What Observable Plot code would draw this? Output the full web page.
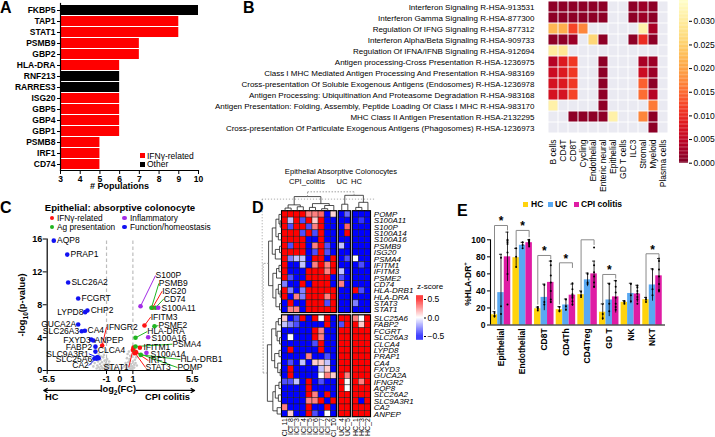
<!DOCTYPE html>
<html>
<head>
<meta charset="utf-8">
<script src="https://cdn.jsdelivr.net/npm/d3@7"></script>
<script src="https://cdn.jsdelivr.net/npm/@observablehq/plot@0.6"></script>
<style>
html,body{margin:0;padding:0;background:#fff;}
#root{position:relative;width:715px;height:437px;overflow:hidden;background:#fff;font-family:"Liberation Sans",Arial,Helvetica,sans-serif;color:#000;}
.abs{position:absolute;white-space:nowrap;line-height:1;}
</style>
</head>
<body>
<div id="root"></div>
<script>
// ================= DATA =================
// ---- Panel A ----
const aGenes = ["FKBP5","TAP1","STAT1","PSMB9","GBP2","HLA-DRA","RNF213","RARRES3","ISG20","GBP5","GBP4","GBP1","PSMB8","IRF1","CD74"];
const aCounts = [10,9,9,7,7,6,6,6,6,6,6,6,5,5,5];
const aTypes = ["Other","IFNγ-related","IFNγ-related","IFNγ-related","IFNγ-related","IFNγ-related","Other","Other","IFNγ-related","IFNγ-related","IFNγ-related","IFNγ-related","IFNγ-related","IFNγ-related","IFNγ-related"];
const aTicks = [3,4,5,6,7,8,9,10];

// ---- Panel B ----
const bPathways = [
  "Interferon Signaling R-HSA-913531",
  "Interferon Gamma Signaling R-HSA-877300",
  "Regulation Of IFNG Signaling R-HSA-877312",
  "Interferon Alpha/Beta Signaling R-HSA-909733",
  "Regulation Of IFNA/IFNB Signaling R-HSA-912694",
  "Antigen processing-Cross Presentation R-HSA-1236975",
  "Class I MHC Mediated Antigen Processing And Presentation R-HSA-983169",
  "Cross-presentation Of Soluble Exogenous Antigens (Endosomes) R-HSA-1236978",
  "Antigen Processing: Ubiquitination And Proteasome Degradation R-HSA-983168",
  "Antigen Presentation: Folding, Assembly, Peptide Loading Of Class I MHC R-HSA-983170",
  "MHC Class II Antigen Presentation R-HSA-2132295",
  "Cross-presentation Of Particulate Exogenous Antigens (Phagosomes) R-HSA-1236973"
];
const bCellTypes = ["B cells","CD4T","CD8T","Cycling","Endothelial","Enteric neural","Epithelial","GD T cells","ILC3","Stromal","Myeloid","Plasma cells"];
const bPvals = [
  [0.001,0.001,0.001,0.001,0.001,0.001,null,null,0.001,0.002,0.001,null],
  [0.001,0.001,0.001,0.001,0.001,0.001,null,null,0.001,0.002,0.001,null],
  [0.022,0.021,0.012,0.017,null,null,null,null,null,0.031,0.003,null],
  [0.001,0.001,0.002,null,0.026,0.001,null,null,0.001,0.010,0.001,null],
  [0.030,0.029,null,null,null,null,null,null,null,null,null,null],
  [0.004,0.008,0.011,null,null,0.001,null,null,null,0.003,0.002,null],
  [0.006,0.008,0.011,null,null,0.001,null,null,null,0.006,0.002,null],
  [0.007,0.008,0.011,null,null,0.001,null,null,null,0.014,0.001,null],
  [0.007,0.007,0.012,null,null,0.001,null,null,null,0.015,0.004,null],
  [0.031,null,null,null,null,0.001,null,null,null,null,0.016,null],
  [null,null,0.001,0.001,0.001,0.001,0.031,null,null,0.017,0.001,null],
  [null,null,null,null,null,null,null,null,null,null,0.001,null]
];
const bTicks = [0,0.005,0.010,0.015,0.020,0.025,0.030];

// ---- Panel C ----
const cGroups = ["IFNγ-related","Ag presentation","Inflammatory","Function/homeostasis"];
const cGenes  = ["AQP8","PRAP1","SLC26A2","FCGRT","LYPD8","CHP2","GUCA2A","SLC26A3","CA4","FXYD3","ANPEP","FABP2","CLCA4","SLC9A3R1","SLC25A6","CA2",
                 "IFNGR2","STAT1","IFITM3","ISG20","IFITM1","IRF1","STAT3",
                 "PSMB9","CD74","PSME2","HLA-DRA","PSMA4","HLA-DRB1","POMP",
                 "S100P","S100A11","S100A16","S100A14",
                 "","","",""];
const cFC   = [-5.0,-3.98,-3.91,-3.15,-2.62,-2.45,-3.15,-2.88,-2.64,-2.16,-2.0,-1.84,-1.84,-1.66,-1.91,-1.71,
               -1.33,1.05,1.88,2.49,1.53,1.15,1.0,
               2.41,2.72,2.64,1.2,1.2,1.6,1.18,
               1.58,2.92,2.16,2.03,
               1.25,1.15,-1.75,-1.6];
const cLogP = [15.8,14.1,10.7,8.76,7.1,7.3,5.6,4.78,4.83,3.77,3.65,2.9,2.3,1.58,1.46,1.62,
               3.04,2.8,5.47,7.63,2.76,2.3,2.5,
               7.63,7.63,5.39,3.98,2.92,1.9,2.22,
               7.82,7.63,4.05,2.15,
               2.2,2.1,1.45,1.5];
const cGroupOf = ["F","F","F","F","F","F","F","F","F","F","F","F","F","F","F","F",
                  "I","I","I","I","I","I","I",
                  "A","A","A","A","A","A","A",
                  "N","N","N","N",
                  "I","I","F","F"];
const cLabelX = [-4.75,-3.73,-3.66,-2.9,-2.75,-2.2,-3.3,-3.07,-2.44,-2.2,-1.91,-2.09,-1.66,-2.34,-2.09,-2.34,
                 -1.0,0.69,2.35,3.22,1.8,2.18,1.96,
                 2.97,3.35,2.94,2.09,4.0,4.61,4.38,
                 2.72,3.17,2.41,2.34,
                 0,0,0,0];
const cLabelY = [15.8,14.1,10.7,8.76,7.1,7.3,5.6,4.8,4.85,3.7,3.65,2.85,2.5,2.03,1.42,0.6,
                 5.27,0.4,6.5,9.65,2.8,1.2,0.36,
                 10.6,8.72,5.45,4.74,3.2,1.34,0.36,
                 11.56,7.6,3.95,2.02,
                 0,0,0,0];
const cAnchor = ["s","s","s","s","e","s","e","e","s","e","s","e","s","e","e","e",
                 "s","e","s","s","s","s","s",
                 "s","s","s","s","s","s","s",
                 "s","s","s","s",
                 "","","",""];
const cLeader = [0,0,0,0,0,0,0,0,0,0,0,0,0,1,1,1,
                 1,1,1,1,0,1,1,
                 1,1,1,1,1,1,1,
                 1,0,0,0,
                 0,0,0,0];
const cGray = [[-2.1,1.2],[-1.9,0.9],[-1.8,1.5],[-1.7,0.6],[-1.65,1.1],[-1.6,0.4],[-1.55,1.8],[-1.5,0.8],[-1.45,1.3],[-1.4,0.5],
               [-1.35,1.0],[-1.3,0.3],[-1.25,1.6],[-1.2,0.7],[-1.15,1.2],[-1.1,0.2],[-1.05,0.9],[-1.0,0.5],[-0.95,1.4],[-0.9,0.3],
               [-0.85,0.8],[-0.8,0.6],[-0.75,0.4],[-0.7,0.2],[-1.6,2.0],[-1.4,1.7],[-1.2,1.9],[-1.0,1.3],[-0.8,1.1],[-1.5,0.15],
               [-1.3,0.25],[-1.1,0.45],[-0.9,0.65],[-2.0,0.5],[-1.75,0.25],[-1.95,1.6],[-2.2,0.8],[-1.85,2.2],
               [0.5,0.3],[0.6,0.6],[0.65,1.0],[0.7,0.4],[0.75,1.4],[0.8,0.2],[0.85,0.8],[0.9,1.7],[0.95,0.5],[1.0,1.1],
               [1.05,2.0],[1.1,0.7],[1.15,1.3],[1.2,0.9],[1.25,1.6],[0.7,2.3],[0.8,1.8],[0.9,0.15],[1.0,2.5],[1.1,0.35],
               [0.75,1.2],[0.85,0.5],[0.95,0.25],[0.55,1.5],[0.6,2.0],[1.3,0.6],[0.45,0.9],[-0.3,0.2],[0.2,0.3],[0.35,0.5]];
const cXTicks = [-5.5,-1,0,1,5.5];
const cYTicks = [0,4,8,12,16];
const cArrows = [{x1:-1.46,x2:-5.76,y:-2.43},{x1:1.27,x2:5.68,y:-2.43}];

// ---- Panel D ----
const dGenes = ["POMP","S100A11","S100P","S100A14","S100A16","PSMB9","ISG20","PSMA4","IFITM1","IFITM3","PSME2","CD74","HLA-DRB1","HLA-DRA","STAT3","STAT1",
                "SLC25A6","FABP2","FCGRT","SLC26A3","CLCA4","LYPD8","PRAP1","CA4","FXYD3","GUCA2A","IFNGR2","AQP8","SLC26A2","SLC9A3R1","CA2","ANPEP"];
const dSamples = ["ICI_11","ICI_8","ICI_3","ICI_4","ICI_5","ICI_6","ICI_7","ICI_2","ICI_10","UC_4","UC_5","HC_1","HC_3","HC_2"];
const dSampleGroup = [0,0,0,0,0,0,0,0,0,1,1,2,2,2];
const dGroupNames = ["CPI_colitis","UC","HC"];
const dZ = [
  [ .6, .6, .6, .6, .25, .25, .3,-.6, .08,-.6,-.3,-.6,-.6,-.6],
  [ .6,-.12,.6,-.35,.6, .1, .6,-.6,-.6,-.6,-.6,-.6,-.4,-.6],
  [ .6,-.35,.6, .6,-.35,.25, .6,-.6,-.6,-.6, .3,-.6,-.6,-.6],
  [ .6, .6, .6,-.35,.6,-.35, .6,-.6,-.6,-.6, .6,-.6,-.6,-.6],
  [ .6, .6, .6, .6,-.6,-.6, .6,-.6,-.6,-.6,-.6,-.6,-.6,-.6],
  [ .6,-.35,.6, .6,-.6, .25, .6,-.35,-.6,-.12,-.6,-.6,-.6,-.6],
  [ .6, .6, .6, .6,-.6,-.35, .6,-.35,-.6,-.6,-.6,-.6,-.6,-.6],
  [ .6,-.25,-.12,-.12,-.6,.6, .6,-.6, .6,-.6,-.35,0,-.6,-.6],
  [ .6,-.6,-.6,-.12,-.6, .25, .6, .25, .6,-.6,-.6,-.6,-.35,-.6],
  [ .6,-.6,-.6,-.6, .6, .6, .6, .25, .6,-.12,-.6,-.6,-.6,-.6],
  [ .6,-.35,-.6,-.6, .6, .6, .6, .6,-.6,-.35,-.6,-.6,-.6,-.6],
  [-.25,-.6,-.6, .6,-.6, .6, .6, .6,-.6, .25,-.6,-.6,-.6,-.6],
  [ .6,-.25,-.6,-.25,.6, .6, .6, .6, .6,-.6,-.6, .6,-.35,-.6],
  [ .6,-.6, .25,-.25,.6, .6, .6, .25, .6,-.6,-.6,-.6,-.6,-.6],
  [-.6, .6,-.6,-.6, .6, .6, .6,-.35, .6,-.6,-.6,-.25,-.6,-.6],
  [-.6, .25, .25,-.6,.6, .6, .6, .6, .6,-.6,-.6,-.6,-.6,-.6],
  [ .1,-.6,-.35, .6,-.6, .6, 0, .6,-.6, .6, .6, .25, 0, .6],
  [-.12,-.25,-.35,-.6,-.6,-.6,-.6, .6,-.6,-.35,.6, .6, .1, .6],
  [-.6,-.6,-.6,-.6,-.6, .6, .25,-.6,-.6, .6, .6, .6, .6, .6],
  [-.6, 0,-.6,-.6,-.6, .6, .25,-.6,-.6, .6, .6, .6, .6, .6],
  [-.6,-.6,-.6,-.6,-.6,-.35, .6,-.6,-.6, .6, .6, .6, .6, .6],
  [-.6, .6,-.6,-.6,-.6,-.6, .6,-.6,-.6, .6, .6, .6, .6, .6],
  [-.6,-.6,-.6,-.6, .25,-.6,-.6,-.35,-.6, .6, .6, .6, .6, .6],
  [-.6,-.35,-.6,-.12,-.6, .1, .1,-.12,-.6, .6, .6, .6, .6, .6],
  [-.6, .6,-.6,-.6,-.6,-.6,-.12, .1,-.6, .6, .6, .6, .6, .6],
  [-.6, .6,-.6,-.6,-.6,-.6, 0, .25, .1, .6, .25, .6, .6, .6],
  [-.35,-.35,-.12,-.6,.6,-.6,-.35,-.6,-.6, .6, 0, .6, .25, .6],
  [-.6,-.6,-.6,-.6, .6,-.6,-.6,-.6,-.6, .6, 0, .6, .6, .6],
  [-.6,-.6,-.6,-.6, .6, .25,-.6, .6,-.6, .6, .6, .6, .6, .6],
  [-.6,-.6,-.6,-.6, .25, .25, .6,-.6, .6, .6, .6, .6,-.6, .6],
  [ .25,-.6,-.6,-.6, .6,-.6,-.6, .6,-.6, .6, .6, .6, .6, .6],
  [-.6, .1,-.6,-.6, .6,-.35,-.6, 0,-.6, .6, .6, .6, .6, .6]
];
// dendrograms: leaves are indices, nodes {h, c:[...]}
const dColTree = {h:3.05, dot:true, c:[
  {h:2.3, c:[ {h:1.0,c:[{h:0.5,c:[0,1]},{h:0.7,c:[2,3]}]}, {h:1.2,c:[{h:0.6,c:[4,5]},{h:0.9,c:[{h:0.4,c:[6,7]},8]}]} ]},
  {h:2.5, c:[ {h:1.1,c:[9,10]}, {h:1.4,c:[{h:0.6,c:[11,12]},13]} ]}
]};
const dRowTree = {h:3.1, dot:true, c:[
  {h:2.2, c:[
    {h:1.6, c:[{h:1.0,c:[{h:0.5,c:[0,{h:0.3,c:[1,2]}]},{h:0.6,c:[3,4]}]}, {h:1.1,c:[{h:0.4,c:[5,6]},7]}]},
    {h:1.5, c:[{h:0.9,c:[{h:0.5,c:[8,9]},10]}, {h:1.0,c:[{h:0.6,c:[11,{h:0.3,c:[12,13]}]},{h:0.4,c:[14,15]}]}]}
  ]},
  {h:2.4, c:[
    {h:1.7, c:[{h:1.0,c:[{h:0.6,c:[16,17]},{h:0.8,c:[18,{h:0.4,c:[19,20]}]}]}, {h:1.2,c:[{h:0.5,c:[21,22]},{h:0.7,c:[23,{h:0.3,c:[24,25]}]}]}]},
    {h:1.5, c:[{h:1.1,c:[{h:0.5,c:[26,27]},{h:0.6,c:[28,29]}]}, {h:0.8,c:[30,31]}]}
  ]}
]};
// dotted cut guides of the dendrograms (height of the cut, extent)
const dGuides = [{x1:-3.3,y1:-1.9,x2:15.2,y2:-1.9},{x1:-3.25,y1:-1.9,x2:-3.25,y2:14.9}];
const dZTicks = [-0.5,0,0.5];

// ---- Panel E ----
const eCells = ["Epithelial","Endothelial","CD8T","CD4Th","CD4Treg","GD T","NK","NKT"];
const eGroups = ["HC","UC","CPI colitis"];
const eColors = ["#FFD30D","#59A8F2","#DF1CA4"];
const eMean = {
  "HC":          [12,79,19,18,35.6,15,26.6,29.7],
  "UC":          [38,93.6,32.4,23.5,53,29.4,37,47],
  "CPI colitis": [80,96.6,50,35,60,33,36.4,57.7]
};
const eSD = {
  "HC":          [3.7,11,2,3.6,4.4,9.7,2,2.7],
  "UC":          [45,3.4,15.6,7,8,19.6,12,19],
  "CPI colitis": [29,3.4,25,13,15,19,10.3,20.3]
};
const ePoints = {
  "HC":          [[14,10,11],[90,80,68],[21,19,17],[21,17,16],[39,35,33],[25,13,8],[28,27,25],[32,30,27]],
  "UC":          [[79,22,13],[97,94,90],[47,27,24],[30,22,18],[60,50,48],[48,25,16],[48,35,28],[65,42,35]],
  "CPI colitis": [[100,99,97,95,85,60,24],[100,99,98,97,96,94,92],[75,70,58,50,40,30,27],[49,42,36,34,32,28,24],
                  [91,70,62,57,50,45,45],[52,45,38,32,25,21,18],[46,44,40,37,33,30,25],[78,75,65,57,48,40,41]]
};
// significance brackets: cell index, bracket top, left leg end, right leg end, label
const eBrackets = [
  {ci:0,top:116.8,left:18,right:111,star:"*"},
  {ci:1,top:111,left:92,right:103,star:"*"},
  {ci:2,top:81.6,left:24,right:77,star:"*"},
  {ci:3,top:73,left:24,right:67,star:"*"},
  {ci:4,top:100,left:40.5,right:94,star:""},
  {ci:5,top:59.3,left:25,right:54.5,star:"*"},
  {ci:7,top:83.6,left:32.6,right:78,star:"*"}
];
const eYTicks = [0,20,40,60,80,100];

// ================= HELPERS =================
const FF = '"Liberation Sans", Arial, Helvetica, sans-serif';
const root = document.getElementById("root");
function place(node, left, top) {
  node.style.position = "absolute"; node.style.left = left + "px"; node.style.top = top + "px";
  root.appendChild(node); return node;
}
function label(html, x, yc, fs, o = {}) {
  const d = document.createElement("div"); d.className = "abs"; d.innerHTML = html;
  d.style.fontSize = fs + "px"; d.style.fontWeight = o.bold ? "bold" : "normal";
  if (o.italic) d.style.fontStyle = "italic";
  const tx = o.anchor === "middle" ? "-50%" : o.anchor === "end" ? "-100%" : "0";
  d.style.transform = `translateX(${tx})`;
  return place(d, x, yc - 0.49 * fs);
}
function vlabel(html, xc, yc, fs, o = {}) {
  const d = document.createElement("div"); d.className = "abs"; d.innerHTML = html;
  d.style.fontSize = fs + "px"; d.style.fontWeight = o.bold ? "bold" : "normal";
  d.style.transform = "translate(-50%,-50%) rotate(-90deg)";
  return place(d, xc, yc);
}
function swatch(x, y, w, h, color, round) {
  const d = document.createElement("div");
  d.style.width = w + "px"; d.style.height = h + "px"; d.style.background = color;
  if (round) d.style.borderRadius = "50%";
  return place(d, x, y);
}
const base = {fontFamily: FF, background: "none", overflow: "visible", color: "#000"};
function dendro(tree, posOf) {
  const segs = [];
  (function rec(n) {
    if (typeof n === "number") return {p: posOf(n), h: 0};
    const kids = n.c.map(rec);
    const p = (kids[0].p + kids[kids.length - 1].p) / 2;
    kids.forEach(k => segs.push({a1: k.p, b1: k.h, a2: k.p, b2: n.h, dot: !!n.dot}));
    segs.push({a1: kids[0].p, b1: n.h, a2: kids[kids.length - 1].p, b2: n.h, dot: !!n.dot});
    return {p, h: n.h};
  })(tree);
  return segs;
}

// ================= PANEL A =================
const aData = aGenes.map((g, i) => ({gene: g, n: aCounts[i], type: aTypes[i]}));
place(Plot.plot({
  width: 206, height: 192, marginLeft: 60, marginRight: 8, marginTop: 3, marginBottom: 22,
  style: {...base, fontSize: "8.5px", fontWeight: "bold"},
  x: {domain: [3, 10], label: null},
  y: {domain: aGenes, paddingInner: 0.12, paddingOuter: 0.02, label: null},
  color: {domain: ["IFNγ-related", "Other"], range: ["#FF0000", "#000000"]},
  marks: [
    Plot.barX(aData, {x1: 3, x2: "n", y: "gene", fill: "type"}),
    Plot.frame({anchor: "left", stroke: "#000", strokeWidth: 1.2}),
    Plot.frame({anchor: "bottom", stroke: "#000", strokeWidth: 1.2}),
    Plot.axisX({ticks: aTicks, tickSize: 4, tickPadding: 1, label: null, tickFormat: d => String(d)}),
    Plot.axisY({tickSize: 3, tickPadding: 2, label: null})
  ]
}), 0, 0);
label("A", 0, 7.8, 16, {bold: true});
swatch(140, 153, 5, 5, "#FF0000");
label("IFNγ-related", 147, 155.7, 8.5);
swatch(140, 162, 5, 5, "#000");
label("Other", 147, 164.5, 8.5);
label("# Populations", 90, 186.5, 9, {bold: true});

// ================= PANEL B =================
const bData = [];
bPathways.forEach((p, i) => bCellTypes.forEach((c, j) => bData.push({p, c, v: bPvals[i][j]})));
const bColor = {type: "linear", domain: [0, 0.0344], scheme: "YlOrRd", reverse: true, clamp: true};
place(Plot.plot({
  width: 485, height: 195, marginLeft: 352, marginRight: 2, marginTop: 0, marginBottom: 62,
  style: {...base, fontSize: "8px"},
  x: {domain: bCellTypes, padding: 0, label: null},
  y: {domain: bPathways, padding: 0, label: null},
  color: bColor,
  marks: [
    Plot.cell(bData, {x: "c", y: "p", fill: "#EAEAF2", inset: 0.5}),
    Plot.cell(bData.filter(d => d.v != null), {x: "c", y: "p", fill: "v", inset: 0.5}),
    Plot.axisY({tickSize: 0, tickPadding: 8, label: null}),
    Plot.axisX({tickSize: 0, tickPadding: 6, tickRotate: -90, label: null, fontSize: 8.5})
  ]
}), 190, 0);
label("B", 243, 7.8, 16, {bold: true});
const bStops = d3.range(0, 0.0344, 0.0344 / 120);
place(Plot.plot({
  width: 36, height: 165, marginLeft: 0, marginRight: 27, marginTop: 0, marginBottom: 2.3,
  style: {...base, fontSize: "8.5px"},
  x: {domain: [0, 1], axis: null},
  y: {domain: [0, 0.0344], label: null},
  color: bColor,
  marks: [
    Plot.rect(bStops, {x1: 0, x2: 1, y1: d => d, y2: d => d + 0.0344 / 120 + 0.00003, fill: d => d}),
    Plot.axisY({anchor: "right", ticks: bTicks, tickFormat: d3.format(".3f"), tickSize: 3, tickPadding: 2, label: null})
  ]
}), 679, 0);

// ================= PANEL C =================
const cGroupName = {I: "IFNγ-related", A: "Ag presentation", N: "Inflammatory", F: "Function/homeostasis"};
const cColors = ["#FF1212", "#20B520", "#A22BE6", "#1212F2"];
const cData = cGenes.map((g, i) => ({gene: g, fc: cFC[i], lp: cLogP[i], group: cGroupName[cGroupOf[i]],
  lx: cLabelX[i], ly: cLabelY[i], anchor: cAnchor[i], leader: cLeader[i]}));
const cGrayData = cGray.map(([fc, lp]) => ({fc, lp}));
place(Plot.plot({
  width: 258, height: 178, marginLeft: 46.7, marginRight: 66.3, marginTop: 8.5, marginBottom: 38,
  style: {...base, fontSize: "9px", fontWeight: "bold"},
  x: {domain: [-5.5, 5.5], label: null},
  y: {domain: [0, 16], label: null},
  color: {domain: cGroups, range: cColors},
  marks: [
    Plot.ruleX([-1, 1], {y1: 0, y2: 16, stroke: "#bdbdbd", strokeDasharray: "3.5,2.5", strokeWidth: 1.2}),
    Plot.dot(cGrayData, {x: "fc", y: "lp", r: 1.3, fill: "#c8c8c8"}),
    Plot.link(cData.filter(d => d.leader), {x1: "fc", y1: "lp", x2: "lx", y2: "ly", stroke: "group", strokeWidth: 1}),
    Plot.dot(cData, {x: "fc", y: "lp", r: 2.3, fill: "group"}),
    Plot.text(cData.filter(d => d.anchor === "s"), {x: "lx", y: "ly", text: "gene", textAnchor: "start", fontWeight: "normal", fontSize: 8.5}),
    Plot.text(cData.filter(d => d.anchor === "e"), {x: "lx", y: "ly", text: "gene", textAnchor: "end", fontWeight: "normal", fontSize: 8.5}),
    Plot.ruleX([-5.5], {y1: 0, y2: 16, stroke: "#000", strokeWidth: 1.2}),
    Plot.ruleY([0], {x1: -5.5, x2: 5.5, stroke: "#000", strokeWidth: 1.2}),
    Plot.axisX({ticks: cXTicks, tickFormat: d => String(d), tickSize: 4, tickPadding: 1, label: null}),
    Plot.axisY({ticks: cYTicks, tickFormat: d => String(d), tickSize: 4, tickPadding: 1, label: null}),
    Plot.arrow(cArrows, {x1: "x1", x2: "x2", y1: "y", y2: "y", stroke: "#000", strokeWidth: 1.2, headLength: 5})
  ]
}), 0, 230);
label("C", 0, 207.8, 16, {bold: true});
label("Epithelial: absorptive colonocyte", 120, 207.7, 9.6, {bold: true, anchor: "middle"});
swatch(49.5, 215.5, 4.5, 4.5, cColors[0], true); label("IFNγ-related", 57, 217.7, 8.3);
swatch(122, 215.5, 4.5, 4.5, cColors[2], true); label("Inflammatory", 130, 217.7, 8.3);
swatch(49.5, 224.8, 4.5, 4.5, cColors[1], true); label("Ag presentation", 57, 227, 8.3);
swatch(122, 224.8, 4.5, 4.5, cColors[3], true); label("Function/homeostasis", 130, 227, 8.3);
vlabel("-log<sub style='font-size:70%'>10</sub>(p-value)", 24, 305, 9.3, {bold: true});
label("log<sub style='font-size:70%'>2</sub>(FC)", 118, 389.5, 9.3, {bold: true, anchor: "middle"});
label("HC", 45, 397.5, 9.3, {bold: true});
label("CPI colitis", 145, 397.5, 9.3, {bold: true});

// ================= PANEL D =================
const colX = j => j + dSampleGroup[j] * 0.3;
const rowY = r => r + (r >= 16 ? 0.35 : 0);
const dCells = [];
dGenes.forEach((g, i) => dSamples.forEach((s, j) => dCells.push({x0: colX(j), x1: colX(j) + 1, y0: rowY(i), y1: rowY(i) + 1, z: dZ[i][j]})));
const dBlocks = [];
[[0, 8], [9, 10], [11, 13]].forEach(([a, b]) => [[0, 15], [16, 31]].forEach(([r0, r1]) =>
  dBlocks.push({x0: colX(a), x1: colX(b) + 1, y0: rowY(r0), y1: rowY(r1) + 1})));
const dTop = dendro(dColTree, j => colX(j) + 0.5).map(s => ({x1: s.a1, y1: -s.b1, x2: s.a2, y2: -s.b2, dot: s.dot}));
const dLeft = dendro(dRowTree, r => rowY(r) + 0.5).map(s => ({x1: -s.b1, y1: s.a1, x2: -s.b2, y2: s.a2, dot: s.dot}));
const dSegs = dTop.concat(dLeft);
const dRowLabels = dGenes.map((g, i) => ({g, y: rowY(i) + 0.5}));
const dColLabels = dSamples.map((s, j) => ({s, x: colX(j) + 0.5}));
const zColor = {type: "linear", domain: [-0.5, 0, 0.5], range: ["#0000FF", "#FFFFFF", "#FF0000"], clamp: true};
place(Plot.plot({
  width: 200, height: 252, marginLeft: 2, marginRight: 89.5, marginTop: 6, marginBottom: 20.3,
  style: {...base, fontSize: "8px"},
  x: {domain: [-3.2, 14.6], axis: null},
  y: {domain: [-3.1, 32.35], reverse: true, axis: null},
  color: zColor,
  marks: [
    Plot.link(dGuides, {x1: "x1", y1: "y1", x2: "x2", y2: "y2", stroke: "#999", strokeWidth: 0.8, strokeDasharray: "1.2,1.8"}),
    Plot.rect(dCells, {x1: "x0", x2: "x1", y1: "y0", y2: "y1", fill: "z", stroke: "#1a1a1a", strokeWidth: 0.45}),
    Plot.rect(dBlocks, {x1: "x0", x2: "x1", y1: "y0", y2: "y1", fill: "none", stroke: "#000", strokeWidth: 1.1}),
    Plot.link(dSegs.filter(d => !d.dot), {x1: "x1", y1: "y1", x2: "x2", y2: "y2", stroke: "#222", strokeWidth: 0.8}),
    Plot.link(dSegs.filter(d => d.dot), {x1: "x1", y1: "y1", x2: "x2", y2: "y2", stroke: "#888", strokeWidth: 0.8, strokeDasharray: "1.5,1.5"}),
    Plot.text(dRowLabels, {x: 14.6, y: "y", text: "g", textAnchor: "start", dx: 2.8, fontStyle: "italic", fontSize: 8}),
    Plot.text(dColLabels, {x: "x", y: 32.35, text: "s", rotate: -90, textAnchor: "end", dy: 1, fontSize: 7})
  ]
}), 260, 185);
label("D", 252, 207.8, 16, {bold: true});
label("Epithelial Absorptive Colonocytes", 341, 172, 7.6, {anchor: "middle"});
label(dGroupNames[0], 307, 182, 7.6, {anchor: "middle"});
label(dGroupNames[1], 342, 182, 7.6, {anchor: "middle"});
label(dGroupNames[2], 356.5, 182, 7.6, {anchor: "middle"});
label("z-score", 417, 287, 8);
const zStops = d3.range(-0.6, 0.6, 0.01);
place(Plot.plot({
  width: 30, height: 46, marginLeft: 0, marginRight: 23, marginTop: 6, marginBottom: 3,
  style: {...base, fontSize: "8.5px"},
  x: {domain: [0, 1], axis: null},
  y: {domain: [-0.5, 0.5], label: null},
  color: zColor,
  marks: [
    Plot.rect(zStops, {x1: 0, x2: 1, y1: d => d, y2: d => d + 0.011, fill: d => d}),
    Plot.axisY({anchor: "right", ticks: dZTicks, tickSize: 2, tickPadding: 2, label: null})
  ]
}), 416, 293);

// ================= PANEL E =================
const eBars = [], eDots = [];
eGroups.forEach((g, gi) => eCells.forEach((c, ci) => {
  const xc = ci + (gi - 1) * 0.3;
  eBars.push({cell: c, group: g, xc, mean: eMean[g][ci], sd: eSD[g][ci]});
  ePoints[g][ci].forEach(v => eDots.push({xc, v}));
}));
const eSegs = [];
eBrackets.forEach(b => {
  const xl = b.ci - 0.3, xr = b.ci + 0.3;
  eSegs.push({x1: xl, y1: b.top, x2: xr, y2: b.top});
  eSegs.push({x1: xl, y1: b.top, x2: xl, y2: b.left});
  eSegs.push({x1: xr, y1: b.top, x2: xr, y2: b.right});
});
const eCatLabels = eCells.map((c, ci) => ({c, x: ci}));
place(Plot.plot({
  width: 255, height: 242, marginLeft: 30, marginRight: 50, marginTop: 44.3, marginBottom: 112.5,
  style: {...base, fontSize: "8.5px", fontWeight: "bold"},
  x: {domain: [-0.485, 7.6], axis: null},
  y: {domain: [0, 100], axis: null},
  color: {domain: eGroups, range: eColors},
  marks: [
    Plot.rectY(eBars, {x1: d => d.xc - 0.15, x2: d => d.xc + 0.15, y1: 0, y2: "mean", fill: "group"}),
    Plot.ruleX(eBars, {x: "xc", y1: d => Math.max(0, d.mean - d.sd), y2: d => d.mean + d.sd, stroke: "#000", strokeWidth: 0.8}),
    Plot.ruleY(eBars, {y: d => d.mean + d.sd, x1: d => d.xc - 0.07, x2: d => d.xc + 0.07, stroke: "#000", strokeWidth: 0.8}),
    Plot.dot(eDots, {x: "xc", y: "v", r: 1, fill: "#000"}),
    Plot.link(eSegs, {x1: "x1", y1: "y1", x2: "x2", y2: "y2", stroke: "#8a8a8a", strokeWidth: 1}),
    Plot.text(eBrackets.filter(b => b.star), {x: "ci", y: d => d.top + 4.5, text: "star", fontSize: 12, fontWeight: "bold"}),
    Plot.ruleX([-0.485], {y1: 0, y2: 100, stroke: "#000", strokeWidth: 1.1}),
    Plot.ruleY([0], {stroke: "#000", strokeWidth: 1.1}),
    Plot.axisY({ticks: eYTicks, tickSize: 3, tickPadding: 2, label: null, tickFormat: d => String(d)}),
    Plot.text(eCatLabels, {x: "x", y: -4, text: "c", rotate: -90, textAnchor: "end", fontSize: 8.5, fontWeight: "bold"})
  ]
}), 460, 195);
label("E", 457, 210.5, 16, {bold: true});
vlabel("%HLA-DR<sup style='font-size:70%'>+</sup>", 468, 284, 8.5, {bold: true});
swatch(523, 202, 5, 5, eColors[0]); label("HC", 531, 204.5, 8.5, {bold: true});
swatch(548, 202, 5, 5, eColors[1]); label("UC", 555, 204.5, 8.5, {bold: true});
swatch(574, 202, 5, 5, eColors[2]); label("CPI colitis", 581, 204.5, 8.5, {bold: true});
</script>
</body>
</html>
